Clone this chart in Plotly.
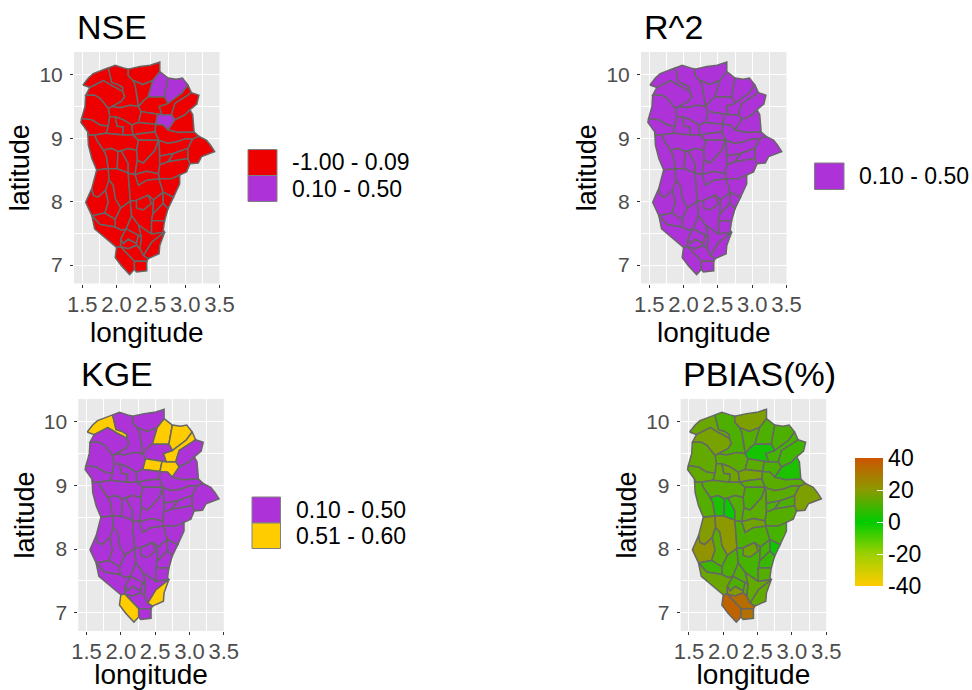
import plotly.graph_objects as go
from plotly.colors import sample_colorscale

# Sub-basin outlines, digitised as (longitude, latitude)
S01 = [(1.51,9.84),(1.59,9.95),(1.66,10.02),(1.81,10.09),(1.88,10.11),(1.93,9.88),(2.02,9.85),(2.09,9.80),(2.09,9.74),(1.93,9.83),(1.81,9.91),(1.61,9.80)]
S02 = [(1.61,9.80),(1.81,9.91),(1.93,9.83),(2.09,9.74),(2.12,9.66),(2.07,9.58),(1.93,9.50),(1.88,9.47),(1.76,9.63),(1.68,9.68),(1.55,9.68)]
S03 = [(1.88,10.11),(1.98,10.15),(2.10,10.11),(2.17,10.09),(2.17,9.99),(2.24,9.91),(2.27,9.84),(2.30,9.66),(2.32,9.50),(2.20,9.52),(2.05,9.48),(1.93,9.50),(2.07,9.58),(2.12,9.66),(2.09,9.74),(2.09,9.80),(2.02,9.85),(1.93,9.88)]
S04 = [(1.93,9.50),(2.05,9.48),(2.20,9.52),(2.32,9.50),(2.36,9.42),(2.32,9.25),(2.22,9.21),(2.10,9.29),(1.98,9.34),(1.90,9.34),(1.88,9.47)]
S05 = [(2.17,10.09),(2.34,10.13),(2.49,10.15),(2.63,10.20),(2.63,10.05),(2.53,9.91),(2.38,9.85),(2.24,9.91),(2.17,9.99)]
S06 = [(2.24,9.91),(2.38,9.85),(2.53,9.91),(2.46,9.65),(2.40,9.60),(2.32,9.50),(2.30,9.66),(2.27,9.84)]
S07 = [(2.63,10.05),(2.75,9.95),(2.70,9.65),(2.46,9.65),(2.53,9.91)]
S08 = [(2.75,9.95),(2.87,9.93),(2.96,9.95),(3.04,9.84),(2.95,9.71),(2.75,9.55),(2.70,9.65)]
S09 = [(3.04,9.84),(3.09,9.72),(3.04,9.68),(2.85,9.55),(2.80,9.37),(2.66,9.37),(2.62,9.50),(2.75,9.55),(2.95,9.71)]
S10 = [(3.09,9.72),(3.20,9.68),(3.17,9.54),(3.07,9.45),(3.00,9.37),(2.85,9.29),(2.80,9.37),(2.85,9.55),(3.04,9.68)]
S11 = [(2.46,9.65),(2.70,9.65),(2.75,9.55),(2.62,9.50),(2.66,9.37),(2.60,9.38),(2.36,9.42),(2.32,9.50),(2.40,9.60)]
S12 = [(2.36,9.42),(2.60,9.38),(2.57,9.22),(2.32,9.25)]
S13 = [(2.60,9.38),(2.66,9.37),(2.80,9.37),(2.85,9.29),(2.75,9.13),(2.68,9.21),(2.57,9.22)]
S14 = [(2.85,9.29),(3.00,9.37),(3.07,9.45),(3.11,9.37),(3.13,9.10),(2.90,9.09),(2.75,9.13)]
S15 = [(2.57,9.22),(2.68,9.21),(2.75,9.13),(2.90,9.09),(3.13,9.10),(3.20,9.03),(3.11,8.99),(3.00,8.99),(2.87,8.94),(2.74,8.92),(2.61,8.97),(2.56,9.10)]
S16 = [(1.55,9.68),(1.68,9.68),(1.76,9.63),(1.88,9.47),(1.90,9.34),(1.88,9.19),(1.76,9.21),(1.64,9.29),(1.49,9.31),(1.54,9.50)]
S17 = [(1.49,9.31),(1.64,9.29),(1.76,9.21),(1.88,9.19),(1.85,9.08),(1.68,9.05),(1.59,9.05),(1.58,9.10),(1.48,9.25)]
S18 = [(1.90,9.34),(1.98,9.34),(2.01,9.19),(2.10,9.18),(2.09,9.05),(1.85,9.08),(1.88,9.19)]
S19 = [(1.98,9.34),(2.10,9.29),(2.22,9.21),(2.24,9.05),(2.09,9.05),(2.10,9.18),(2.01,9.19)]
S20 = [(2.22,9.21),(2.32,9.25),(2.57,9.22),(2.56,9.10),(2.39,9.08),(2.24,9.05)]
S21 = [(1.68,9.05),(1.85,9.08),(2.09,9.05),(2.24,9.05),(2.32,8.97),(2.29,8.81),(2.17,8.84),(2.07,8.80),(2.02,8.79),(1.92,8.84),(1.81,8.81),(1.71,8.97)]
S22 = [(1.58,9.10),(1.59,9.05),(1.68,9.05),(1.71,8.97),(1.81,8.81),(1.85,8.73),(1.88,8.52),(1.71,8.50),(1.64,8.68),(1.59,8.89)]
S23 = [(2.24,9.05),(2.39,9.08),(2.56,9.10),(2.61,8.97),(2.32,8.97)]
S24 = [(2.32,8.97),(2.61,8.97),(2.56,8.81),(2.39,8.61),(2.30,8.65),(2.29,8.81)]
S25 = [(1.81,8.81),(1.92,8.84),(2.02,8.79),(2.01,8.52),(1.88,8.52),(1.85,8.73)]
S26 = [(2.02,8.79),(2.07,8.80),(2.17,8.60),(2.17,8.45),(2.01,8.52)]
S27 = [(2.07,8.80),(2.17,8.84),(2.29,8.81),(2.30,8.65),(2.27,8.43),(2.17,8.45),(2.17,8.60)]
S28 = [(2.30,8.65),(2.39,8.61),(2.56,8.81),(2.61,8.97),(2.62,8.94),(2.63,8.72),(2.63,8.58),(2.61,8.44),(2.44,8.48),(2.27,8.43)]
S29 = [(2.61,8.97),(2.74,8.92),(2.87,8.94),(3.00,8.99),(3.11,8.99),(3.04,8.84),(2.83,8.76),(2.63,8.72),(2.62,8.94)]
S30 = [(2.63,8.72),(2.83,8.76),(2.75,8.63),(2.63,8.58)]
S31 = [(2.75,8.63),(2.83,8.76),(3.04,8.84),(3.04,8.68)]
S32 = [(2.63,8.58),(2.75,8.63),(3.04,8.68),(3.07,8.60),(3.02,8.47),(2.92,8.42),(2.80,8.36),(2.62,8.36),(2.61,8.44)]
S33 = [(3.11,8.99),(3.20,9.03),(3.31,8.97),(3.37,8.89),(3.43,8.79),(3.33,8.75),(3.24,8.71),(3.19,8.61),(3.07,8.60),(3.04,8.68),(3.04,8.84)]
S34 = [(1.71,8.50),(1.88,8.52),(1.89,8.34),(1.84,8.18),(1.73,8.07),(1.66,8.10),(1.64,8.21)]
S35 = [(1.64,8.21),(1.66,8.10),(1.73,8.07),(1.84,8.18),(1.88,7.99),(1.83,7.82),(1.64,7.78),(1.55,7.99)]
S36 = [(1.88,8.52),(2.01,8.52),(2.17,8.45),(2.19,8.18),(2.20,8.01),(2.06,7.90),(1.98,8.05),(1.95,8.26),(1.89,8.34)]
S37 = [(1.84,8.18),(1.89,8.34),(1.95,8.26),(1.98,8.05),(2.06,7.90),(1.98,7.72),(1.83,7.82),(1.88,7.99)]
S38 = [(1.98,7.72),(2.06,7.90),(2.20,8.01),(2.22,7.78),(2.14,7.57),(2.07,7.55),(1.98,7.60)]
S39 = [(1.64,7.78),(1.83,7.82),(1.98,7.72),(1.98,7.60),(1.76,7.64)]
S40 = [(1.76,7.64),(1.98,7.60),(2.07,7.55),(2.14,7.57),(2.06,7.41),(2.06,7.29),(2.00,7.28),(1.85,7.41),(1.68,7.57),(1.64,7.78)]
S41 = [(2.17,8.45),(2.27,8.43),(2.32,8.26),(2.44,8.34),(2.62,8.36),(2.68,8.15),(2.54,8.03),(2.46,8.10),(2.29,8.02),(2.20,8.01),(2.19,8.18)]
S42 = [(2.27,8.43),(2.44,8.48),(2.61,8.44),(2.62,8.36),(2.44,8.34),(2.32,8.26)]
S43 = [(2.20,8.01),(2.29,8.02),(2.46,8.10),(2.54,8.03),(2.53,7.81),(2.51,7.70),(2.51,7.49),(2.32,7.63),(2.22,7.78)]
S44 = [(2.29,8.02),(2.46,8.10),(2.51,7.97),(2.39,7.87),(2.29,7.90)]
S45 = [(2.62,8.36),(2.80,8.36),(2.92,8.42),(2.92,8.28),(2.83,8.07),(2.68,8.15)]
S46 = [(2.54,8.03),(2.68,8.15),(2.68,7.97),(2.53,7.81)]
S47 = [(2.68,8.15),(2.83,8.07),(2.75,7.89),(2.68,7.97)]
S48 = [(2.53,7.81),(2.68,7.97),(2.75,7.89),(2.70,7.70),(2.51,7.70)]
S49 = [(2.51,7.70),(2.70,7.70),(2.68,7.55),(2.70,7.52),(2.51,7.49)]
S50 = [(2.70,7.52),(2.63,7.31),(2.62,7.18),(2.46,7.10),(2.39,7.15),(2.51,7.36)]
S51 = [(2.32,7.63),(2.51,7.49),(2.70,7.52),(2.51,7.36),(2.39,7.15),(2.34,7.26),(2.36,7.44)]
S52 = [(2.22,7.78),(2.32,7.63),(2.36,7.44),(2.32,7.47),(2.14,7.57)]
S53 = [(2.06,7.41),(2.14,7.57),(2.32,7.47),(2.29,7.34),(2.17,7.41),(2.10,7.34)]
S54 = [(2.06,7.41),(2.10,7.34),(2.17,7.41),(2.29,7.34),(2.29,7.31),(2.17,7.26),(2.06,7.29)]
S55 = [(2.29,7.34),(2.32,7.47),(2.36,7.44),(2.34,7.26),(2.29,7.31)]
S56 = [(2.06,7.29),(2.17,7.26),(2.29,7.31),(2.34,7.26),(2.39,7.15),(2.46,7.10),(2.44,7.06),(2.26,7.06)]
S57 = [(2.00,7.28),(2.06,7.29),(2.26,7.06),(2.26,6.93),(2.19,6.85),(2.07,6.99),(1.98,7.12)]
S58 = [(2.26,7.06),(2.44,7.06),(2.44,6.91),(2.29,6.89),(2.26,6.93)]

SUBBASINS = [S01,S02,S03,S04,S05,S06,S07,S08,S09,S10,S11,S12,S13,S14,S15,S16,S17,S18,S19,S20,
             S21,S22,S23,S24,S25,S26,S27,S28,S29,S30,S31,S32,S33,S34,S35,S36,S37,S38,S39,S40,
             S41,S42,S43,S44,S45,S46,S47,S48,S49,S50,S51,S52,S53,S54,S55,S56,S57,S58]

NSE_HIGH = [7, 8, 13]                               # sub-basins in class 0.10 - 0.50
KGE_HIGH = [1, 7, 8, 9, 12, 13, 50, 57]             # sub-basins in class 0.51 - 0.60
PBIAS = [15,17,11,13,18,12,11,11,10,9, 3,13,11,4,13,14,14,14,16,17,
         13,12,13,11,4,1,12,13,13,11, 11,12,18,19,22,20,13,11,9,15,
         11,16,10,16,10,10,2,8,12,14, 14,12,11,19,13,33,36,32]

PANELS = ["NSE", "R^2", "KGE", "PBIAS(%)"]
NSE_LABELS = ["-1.00 - 0.09", "0.10 - 0.50"]
R2_LABELS = ["0.10 - 0.50"]
KGE_LABELS = ["0.10 - 0.50", "0.51 - 0.60"]
X_TICKS = [1.5, 2.0, 2.5, 3.0, 3.5]
Y_TICKS = [7, 8, 9, 10]
CB_TICKS = [-40, -20, 0, 20, 40]

RED, PURPLE, YELLOW = "#EE0000", "#AD32D8", "#FFCC00"
EDGE = "#666666"
FONT = "Liberation Sans"
CSCALE = [[0.0, "#FFCC00"], [0.25, "#9CD000"], [0.5, "#00CC00"], [0.75, "#8C9A00"], [1.0, "#CC5500"]]
W, H = 972, 690


def pbias_colour(v):
    return sample_colorscale(CSCALE, [(v + 40) / 80])[0]


nse_colours = [PURPLE if i + 1 in NSE_HIGH else RED for i in range(len(SUBBASINS))]
r2_colours = [PURPLE] * len(SUBBASINS)
kge_colours = [YELLOW if i + 1 in KGE_HIGH else PURPLE for i in range(len(SUBBASINS))]
pbias_colours = [pbias_colour(v) for v in PBIAS]
COLOURS = [nse_colours, r2_colours, kge_colours, pbias_colours]

# Panel boxes in the page: left, right, top, bottom
BOXES = [(74, 219.5, 52, 283.5), (641, 786.5, 52, 283.5), (78.3, 223.8, 399, 631), (680.7, 826.2, 399, 631)]

fig = go.Figure()
for p, colours in enumerate(COLOURS):
    ax = "" if p == 0 else str(p + 1)
    for poly, c in zip(SUBBASINS, colours):
        xs = [q[0] for q in poly] + [poly[0][0]]
        ys = [q[1] for q in poly] + [poly[0][1]]
        fig.add_trace(go.Scatter(x=xs, y=ys, xaxis="x" + ax, yaxis="y" + ax, mode="lines",
                                 fill="toself", fillcolor=c, line=dict(color=EDGE, width=1.5),
                                 hoverinfo="skip", showlegend=False))
    l, r, t, b = BOXES[p]
    common = dict(showgrid=True, gridcolor="white", gridwidth=1, zeroline=False,
                  ticks="outside", ticklen=3, tickcolor="#333333", tickwidth=1,
                  minor=dict(showgrid=True, gridcolor="white", gridwidth=0.5, ticks=""))
    fig.layout["xaxis" + ax] = dict(
        common, domain=[l / W, r / W], range=[1.38, 3.5], anchor="y" + ax, tickvals=X_TICKS,
        ticktext=[f"{v:.1f}" for v in X_TICKS], tickangle=0,
        tickfont=dict(family=FONT, size=22, color="#4D4D4D"), ticklabelstandoff=-2,
        title=dict(text="longitude", font=dict(family=FONT, size=28, color="black"), standoff=1))
    fig.layout["xaxis" + ax].minor.tickvals = [1.75, 2.25, 2.75, 3.25]
    fig.layout["yaxis" + ax] = dict(
        common, domain=[1 - b / H, 1 - t / H], range=[6.71, 10.36], anchor="x" + ax, tickvals=Y_TICKS,
        tickfont=dict(family=FONT, size=21, color="#4D4D4D"), ticklabelstandoff=3,
        title=dict(text="latitude", font=dict(family=FONT, size=27, color="black"), standoff=1))
    fig.layout["yaxis" + ax].minor.tickvals = [7.5, 8.5, 9.5]
    fig.add_annotation(text=PANELS[p], xref="paper", yref="paper", x=(l + 0.5) / W, y=1 - (t - 25.5) / H,
                       xanchor="left", yanchor="middle", showarrow=False,
                       font=dict(family=FONT, size=34, color="black"))


def legend(x0, x1, y_edges, labels, text_x, colours):
    for i, (lab, c) in enumerate(zip(labels, colours)):
        y0, y1 = y_edges[i], y_edges[i + 1]
        fig.add_shape(type="rect", xref="paper", yref="paper", x0=x0 / W, x1=x1 / W,
                      y0=1 - y0 / H, y1=1 - y1 / H, fillcolor=c, line=dict(color="#808080", width=1))
        fig.add_annotation(text=lab, xref="paper", yref="paper", x=text_x / W, y=1 - (y0 + y1) / 2 / H,
                           xanchor="left", yanchor="middle", showarrow=False,
                           font=dict(family=FONT, size=23, color="black"))


legend(248, 277, [149.5, 175.5, 201.5], NSE_LABELS, 289.5, [RED, PURPLE])
legend(814.5, 844, [163, 189.5], R2_LABELS, 857, [PURPLE])
legend(252, 280.5, [497, 523, 548.5], KGE_LABELS, 293.5, [PURPLE, YELLOW])

# PBIAS colour bar, from a trace with no visible point
fig.add_trace(go.Scatter(
    x=[None], y=[None], xaxis="x4", yaxis="y4", mode="markers", showlegend=False, hoverinfo="skip",
    marker=dict(color=[0], cmin=-40, cmax=40, colorscale=CSCALE, showscale=True,
                colorbar=dict(xref="paper", yref="paper", x=855 / W, xanchor="left", xpad=0, ypad=0,
                              y=1 - 458 / H, yanchor="top", lenmode="pixels", len=128,
                              thicknessmode="pixels", thickness=28, outlinewidth=0,
                              tickvals=CB_TICKS, ticktext=[str(v) for v in CB_TICKS],
                              ticks="inside", ticklen=6, tickcolor="white",
                              tickfont=dict(family=FONT, size=23, color="black")))))

fig.update_layout(width=W, height=H, margin=dict(l=0, r=0, t=0, b=0, autoexpand=False), autosize=False,
                  paper_bgcolor="white", plot_bgcolor="#E9E9E9", font=dict(family=FONT))
fig.write_html("out.html", config=dict(displayModeBar=False),
               post_script="document.body.style.margin='0';document.body.style.overflow='hidden';")
